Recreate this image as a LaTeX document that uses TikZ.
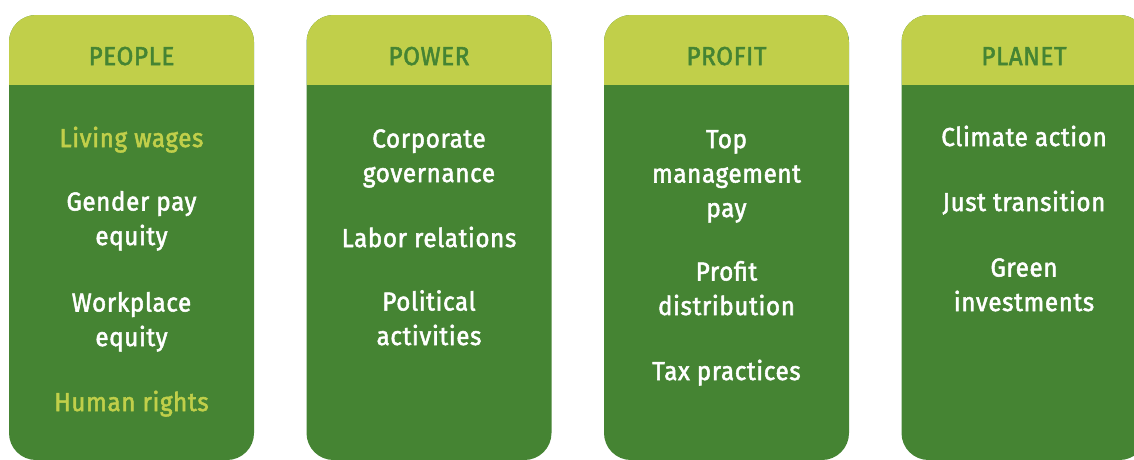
\documentclass[tikz,border=0pt]{standalone}
\usepackage{fontspec}
\setmainfont{Fira Sans}[FakeStretch=0.93, FakeBold=2, LetterSpace=2.5]
\definecolor{lightg}{HTML}{C1CF4A}
\definecolor{darkg}{HTML}{458433}
\begin{document}
\begin{tikzpicture}[x=1pt,y=-1pt,
  cardtxt/.style={inner sep=0pt, font=\fontsize{26}{34.5}\selectfont},
  title/.style={cardtxt, anchor=base, text=darkg},
  item/.style={cardtxt, anchor=base, align=center, text=white},
  hl/.style={text=lightg}]
\useasboundingbox (0,0) rectangle (1134,459);
\clip (0,0) rectangle (1134,459);
\foreach \x in {9,306.5,604,901.5}{
  \fill[darkg, rounded corners=27] (\x,15) rectangle (\x+245,460);
  \begin{scope}
    \clip[rounded corners=27] (\x,15) rectangle (\x+245,460);
    \fill[lightg] (\x,15) rectangle (\x+245,84.5);
  \end{scope}
}
% anchors are at the baseline of each item's last line
% PEOPLE
\node[title] (t1) at (131.5,65) {PEOPLE};
\node[item,hl] (p1) at (131.5,147) {Living wages};
\node[item] (p2) at (131.5,245) {Gender pay\\equity};
\node[item] (p3) at (131.5,346) {Workplace\\equity};
\node[item,hl] (p4) at (131.5,411) {Human rights};
% POWER
\node[title] (t2) at (429,65) {POWER};
\node[item] (w1) at (429,182) {Corporate\\governance};
\node[item] (w2) at (429,247) {Labor relations};
\node[item] (w3) at (429,345) {Political\\activities};
% PROFIT
\node[title] (t3) at (726.5,65) {PROFIT};
\node[item] (f1) at (726.5,217) {Top\\management\\pay};
\node[item] (f2) at (726.5,315) {Profit\\distribution};
\node[item] (f3) at (726.5,380) {Tax practices};
% PLANET
\node[title] (t4) at (1024,65) {PLANET};
\node[item] (n1) at (1024,146) {Climate action};
\node[item] (n2) at (1024,211) {Just transition};
\node[item] (n3) at (1024,311) {Green\\investments};
\end{tikzpicture}
\end{document}
